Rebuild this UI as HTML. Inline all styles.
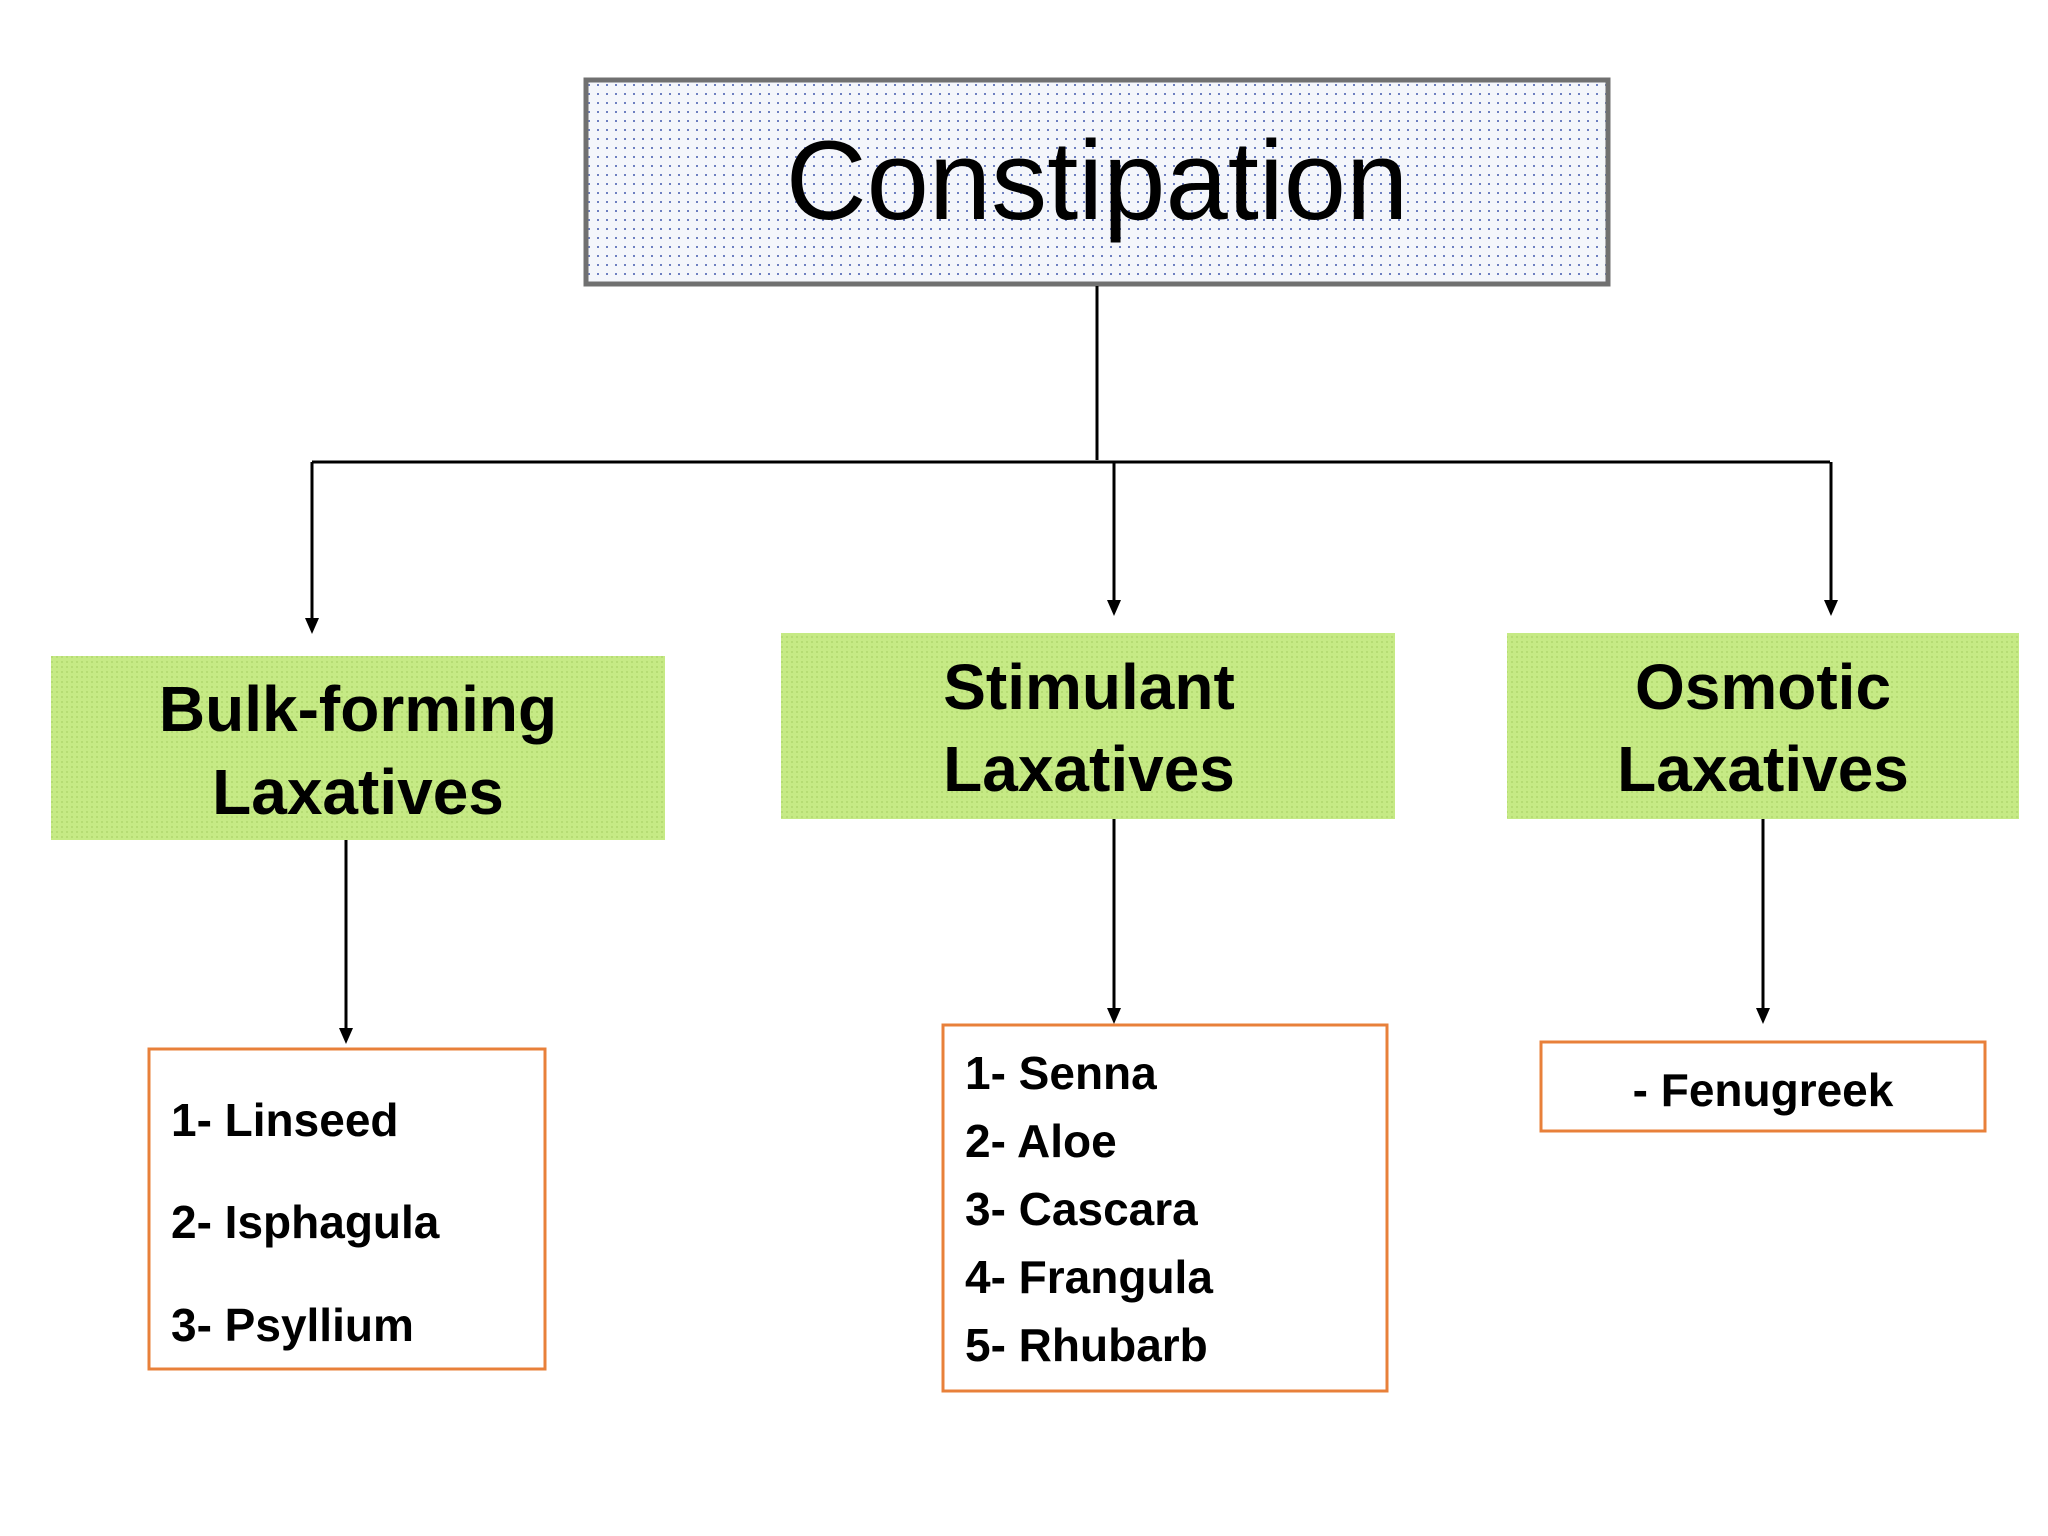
<!DOCTYPE html>
<html><head><meta charset="utf-8"><style>html,body{margin:0;padding:0;background:#fff}svg{display:block}</style></head><body>
<svg width="2048" height="1536" viewBox="0 0 2048 1536" xmlns="http://www.w3.org/2000/svg">
<defs>
<pattern id="bd" width="9" height="9" patternUnits="userSpaceOnUse"><rect width="9" height="9" fill="#f4f6fb"/><rect x="3" y="3" width="2" height="2" fill="#6d7fc0"/></pattern>
<pattern id="gd" width="5" height="5" patternUnits="userSpaceOnUse"><rect width="5" height="5" fill="#c6ea85"/><rect x="1" y="1" width="2" height="2" fill="#b6dc74"/></pattern>
<marker id="ah" markerWidth="10" markerHeight="10" refX="5" refY="9" orient="auto" markerUnits="userSpaceOnUse"><path d="M0,0 L10,0 L5,12 z" transform="translate(0,-3)" fill="#000"/></marker>
</defs>
<rect x="586" y="80" width="1022" height="204" fill="url(#bd)" stroke="#707070" stroke-width="5"/>
<text x="1097" y="219" font-family="Liberation Sans, sans-serif" font-size="112" text-anchor="middle" fill="#000">Constipation</text>
<g stroke="#000" stroke-width="3" fill="none">
<line x1="1097" y1="286" x2="1097" y2="460"/>
<line x1="312" y1="462" x2="1830" y2="462"/>
<line x1="312" y1="462" x2="312" y2="620"/>
<line x1="1114" y1="462" x2="1114" y2="602"/>
<line x1="1831" y1="462" x2="1831" y2="602"/>
<line x1="346" y1="840" x2="346" y2="1030"/>
<line x1="1114" y1="819" x2="1114" y2="1010"/>
<line x1="1763" y1="819" x2="1763" y2="1010"/>
</g>
<g fill="#000">
<path d="M305,618 L319,618 L312,634 z"/>
<path d="M1107,600 L1121,600 L1114,616 z"/>
<path d="M1824,600 L1838,600 L1831,616 z"/>
<path d="M339,1028 L353,1028 L346,1044 z"/>
<path d="M1107,1008 L1121,1008 L1114,1024 z"/>
<path d="M1756,1008 L1770,1008 L1763,1024 z"/>
</g>
<rect x="51" y="656" width="614" height="184" fill="url(#gd)"/>
<rect x="781" y="633" width="614" height="186" fill="url(#gd)"/>
<rect x="1507" y="633" width="512" height="186" fill="url(#gd)"/>
<g font-family="Liberation Sans, sans-serif" font-weight="bold" font-size="64" text-anchor="middle" fill="#000">
<text x="358" y="731">Bulk-forming</text><text x="358" y="814">Laxatives</text>
<text x="1089" y="709">Stimulant</text><text x="1089" y="791">Laxatives</text>
<text x="1763" y="709">Osmotic</text><text x="1763" y="791">Laxatives</text>
</g>
<g fill="none" stroke="#e8803a" stroke-width="3">
<rect x="149" y="1049" width="396" height="320"/>
<rect x="943" y="1025" width="444" height="366"/>
<rect x="1541" y="1042" width="444" height="89"/>
</g>
<g font-family="Liberation Sans, sans-serif" font-weight="bold" font-size="46" fill="#000">
<text x="171" y="1136">1- Linseed</text>
<text x="171" y="1238">2- Isphagula</text>
<text x="171" y="1341">3- Psyllium</text>
<text x="965" y="1089">1- Senna</text>
<text x="965" y="1157">2- Aloe</text>
<text x="965" y="1225">3- Cascara</text>
<text x="965" y="1293">4- Frangula</text>
<text x="965" y="1361">5- Rhubarb</text>
<text x="1763" y="1106" text-anchor="middle">- Fenugreek</text>
</g>
</svg>
</body></html>
